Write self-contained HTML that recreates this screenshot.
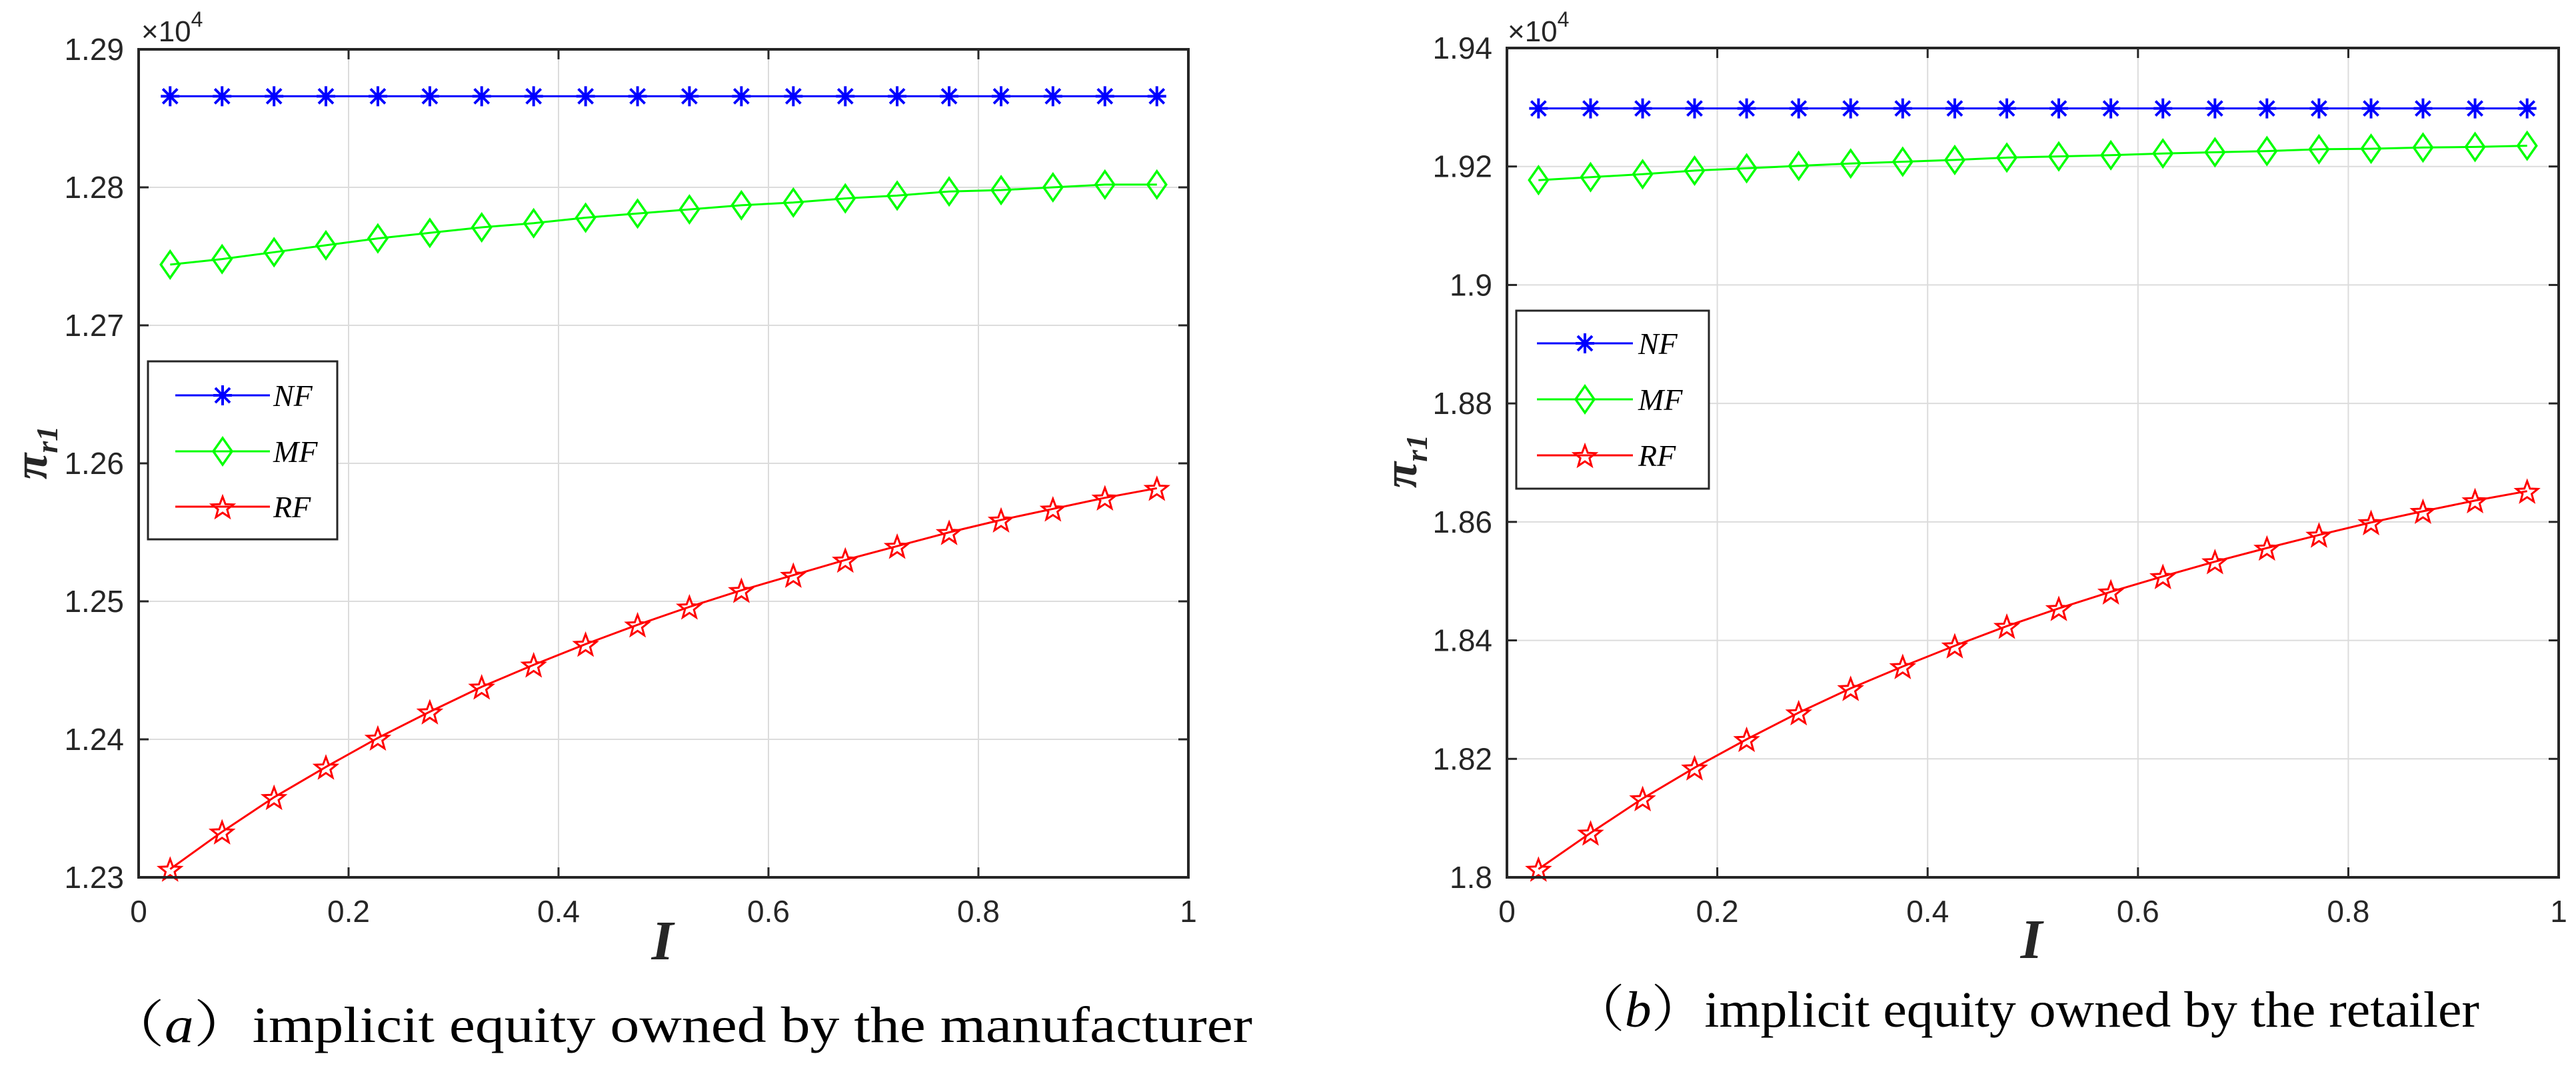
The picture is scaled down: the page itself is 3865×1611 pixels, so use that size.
<!DOCTYPE html>
<html><head><meta charset="utf-8"><style>
html,body{margin:0;padding:0;background:#fff;}
svg{display:block;}
</style></head><body>
<svg id="fig" width="3865" height="1611" viewBox="0 0 3865 1611" xmlns="http://www.w3.org/2000/svg"></svg>
<script>
const xVals = [0.03,0.0795,0.129,0.1784,0.2279,0.2774,0.3268,0.3763,0.4258,0.4753,0.5247,0.5742,0.6237,0.6732,0.7226,0.7721,0.8216,0.871,0.9205,0.97];
const xTicks = [0,0.2,0.4,0.6,0.8,1];
const xTickLabels = ["0","0.2","0.4","0.6","0.8","1"];
const aYTicks = [1.23,1.24,1.25,1.26,1.27,1.28,1.29];
const aYTickLabels = ["1.23","1.24","1.25","1.26","1.27","1.28","1.29"];
const aNF = [1.2866,1.2866,1.2866,1.2866,1.2866,1.2866,1.2866,1.2866,1.2866,1.2866,1.2866,1.2866,1.2866,1.2866,1.2866,1.2866,1.2866,1.2866,1.2866,1.2866];
const aMF = [1.2744,1.2748,1.2753,1.2758,1.2763,1.2767,1.2771,1.2774,1.2778,1.2781,1.2784,1.2787,1.2789,1.2792,1.2794,1.2797,1.2798,1.2800,1.2802,1.2802];
const aRF = [1.2306,1.2333,1.2358,1.2380,1.2401,1.2420,1.2438,1.2454,1.2469,1.2483,1.2496,1.2508,1.2519,1.2530,1.2540,1.2550,1.2559,1.2567,1.2575,1.2582];
const bYTicks = [1.80,1.82,1.84,1.86,1.88,1.90,1.92,1.94];
const bYTickLabels = ["1.8","1.82","1.84","1.86","1.88","1.9","1.92","1.94"];
const bNF = [1.9298,1.9298,1.9298,1.9298,1.9298,1.9298,1.9298,1.9298,1.9298,1.9298,1.9298,1.9298,1.9298,1.9298,1.9298,1.9298,1.9298,1.9298,1.9298,1.9298];
const bMF = [1.9177,1.9182,1.9187,1.9193,1.9197,1.9201,1.9205,1.9208,1.9211,1.9215,1.9217,1.9219,1.9222,1.9224,1.9226,1.9229,1.9230,1.9232,1.9233,1.9235];
const bRF = [1.8014,1.8075,1.8133,1.8185,1.8233,1.8278,1.8319,1.8356,1.8391,1.8424,1.8454,1.8482,1.8508,1.8533,1.8556,1.8578,1.8599,1.8618,1.8636,1.8652];

const NS='http://www.w3.org/2000/svg';
const svg=document.getElementById('fig');
function mk(tag,attrs,parent){const e=document.createElementNS(NS,tag);for(const k in attrs)e.setAttribute(k,attrs[k]);(parent||svg).appendChild(e);return e;}

function starPath(cx,cy,r){let d='';for(let i=0;i<10;i++){const rr=i%2?r*0.42:r;const a=-Math.PI/2+i*Math.PI/5;d+=(i?'L':'M')+(cx+rr*Math.cos(a)).toFixed(1)+' '+(cy+rr*Math.sin(a)).toFixed(1);}return d+'Z';}
function marker(g,type,cx,cy,color){
  let m;
  if(type==='ast'){
    m=mk('path',{d:`M${cx-14} ${cy}H${cx+14}M${cx} ${cy-15}V${cy+15}M${cx-11} ${cy-11}L${cx+11} ${cy+11}M${cx-11} ${cy+11}L${cx+11} ${cy-11}`,stroke:color,'stroke-width':4,fill:'none'},g);
  } else if(type==='dia'){
    m=mk('path',{d:`M${cx} ${cy-20}L${cx+14} ${cy}L${cx} ${cy+20}L${cx-14} ${cy}Z`,stroke:color,'stroke-width':3.5,fill:'none'},g);
  } else {
    m=mk('path',{d:starPath(cx,cy+2,17),stroke:color,'stroke-width':3,fill:'none'},g);
  }
  
  
}

function panel(id,L,R,T,B,yTicks,yLabs,series,leg,caption,capX,capW,capY,xLabX,xLabY,yLabX,yLabY,expX){
  const g=mk('g',{});
  
  
  const y0=yTicks[0],y1=yTicks[yTicks.length-1];
  const sx=v=>L+(v-0)*(R-L);
  const sy=v=>B-(v-y0)/(y1-y0)*(B-T);
  xTicks.forEach((t,i)=>{
    if(i>0&&i<xTicks.length-1){const l=mk('line',{x1:sx(t),x2:sx(t),y1:T,y2:B,stroke:'#dcdcdc','stroke-width':2},g);}
  });
  yTicks.forEach((t,i)=>{
    if(i>0&&i<yTicks.length-1){const l=mk('line',{x1:L,x2:R,y1:sy(t),y2:sy(t),stroke:'#dcdcdc','stroke-width':2},g);}
  });
  xTicks.forEach((t,i)=>{
    mk('line',{x1:sx(t),x2:sx(t),y1:B,y2:B-15,stroke:'#262626','stroke-width':3},g);
    mk('line',{x1:sx(t),x2:sx(t),y1:T,y2:T+15,stroke:'#262626','stroke-width':3},g);
    const tx=mk('text',{x:sx(t),y:1383,'text-anchor':'middle','font-family':'Liberation Sans, sans-serif','font-size':46,fill:'#262626'},g);
    tx.textContent=xTickLabels[i];
    
    
  });
  yTicks.forEach((t,i)=>{
    mk('line',{x1:L,x2:L+15,y1:sy(t),y2:sy(t),stroke:'#262626','stroke-width':3},g);
    mk('line',{x1:R,x2:R-15,y1:sy(t),y2:sy(t),stroke:'#262626','stroke-width':3},g);
    const tx=mk('text',{x:L-22,y:sy(t)+16,'text-anchor':'end','font-family':'Liberation Sans, sans-serif','font-size':46,fill:'#262626'},g);
    tx.textContent=yLabs[i];
    
    
  });
  const ex=mk('text',{x:expX,y:62,'font-family':'Liberation Sans, sans-serif','font-size':44,fill:'#262626'},g);
  ex.innerHTML='×10<tspan dy="-22" font-size="32">4</tspan>';
  
  
  series.forEach(s=>{
    const pts=s.vals.map((v,i)=>sx(xVals[i]).toFixed(1)+','+sy(v).toFixed(1)).join(' ');
    const pl=mk('polyline',{points:pts,fill:'none',stroke:s.color,'stroke-width':s.w},g);
    
    
    s.vals.forEach((v,i)=>marker(g,s.m,sx(xVals[i]),sy(v),s.color));
  });
  const bx=mk('rect',{x:L,y:T,width:R-L,height:B-T,fill:'none',stroke:'#262626','stroke-width':4},g);
  
  
  const lg=mk('g',{},g);
  
  
  mk('rect',{x:leg.x,y:leg.y,width:leg.w,height:leg.h,fill:'#fff',stroke:'#262626','stroke-width':3},lg);
  series.forEach((s,i)=>{
    const ey=leg.rows[i];
    const e=mk('g',{},lg);
    
    
    mk('line',{x1:leg.l1,x2:leg.l2,y1:ey,y2:ey,stroke:s.color,'stroke-width':s.w},e);
    marker(e,s.m,(leg.l1+leg.l2)/2,ey,s.color);
    const t=mk('text',{x:leg.tx,y:ey+16,'font-family':'Liberation Serif, serif','font-style':'italic','font-size':46,fill:'#000'},e);
    t.textContent=s.name;
  });
  const xl=mk('text',{x:xLabX,y:xLabY,'text-anchor':'middle','font-family':'Liberation Serif, serif','font-style':'italic','font-weight':'bold','font-size':84,fill:'#262626'},g);
  xl.textContent='I';
  
  
  const yl=mk('text',{x:0,y:0,transform:`translate(${yLabX},${yLabY}) rotate(-90)`,'text-anchor':'middle','font-family':'Liberation Serif, serif','font-style':'italic','font-weight':'bold','font-size':72,fill:'#262626'},g);
  yl.innerHTML='π<tspan dy="16" font-size="46">r1</tspan>';
  
  
  const cp=mk('text',{x:capX,y:capY,textLength:capW,lengthAdjust:'spacingAndGlyphs','font-family':'Liberation Serif, "Noto Serif CJK SC", serif','font-size':76,fill:'#000'},g);
  cp.innerHTML=caption;
  
  
}

panel('a',208,1783,74,1316,aYTicks,aYTickLabels,
  [{name:'NF',vals:aNF,color:'#0000ff',m:'ast',w:3},{name:'MF',vals:aMF,color:'#00ff00',m:'dia',w:3},{name:'RF',vals:aRF,color:'#ff0000',m:'star',w:3}],
  {x:222,y:542,w:284,h:267,rows:[593,677,760],l1:263,l2:405,tx:410},
  '（<tspan font-style="italic">a</tspan>）implicit equity owned by the manufacturer',159,1720,1563,994,1439,70,679,212);
panel('b',2261,3839,72,1316,bYTicks,bYTickLabels,
  [{name:'NF',vals:bNF,color:'#0000ff',m:'ast',w:3},{name:'MF',vals:bMF,color:'#00ff00',m:'dia',w:3},{name:'RF',vals:bRF,color:'#ff0000',m:'star',w:3}],
  {x:2275,y:466,w:289,h:267,rows:[515,599,683],l1:2306,l2:2450,tx:2458},
  '（<tspan font-style="italic">b</tspan>）implicit equity owned by the retailer',2358,1362,1540,3048,1437,2125,692,2262);
</script>
</body></html>
